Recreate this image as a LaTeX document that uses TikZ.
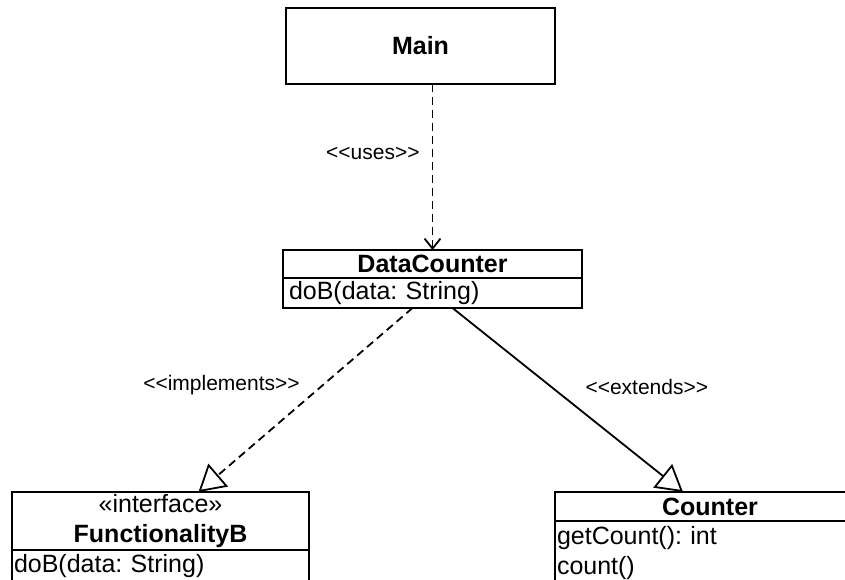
\documentclass[tikz,border=0pt]{standalone}
\usepackage{fontspec}
\setmainfont{Liberation Sans}
\usetikzlibrary{arrows.meta}
\begin{document}
\frenchspacing
\begin{tikzpicture}[x=1pt,y=-1pt,
  box/.style={draw, line width=1.8pt, inner sep=0pt, outer sep=0pt, font=\fontsize{25}{30}\selectfont},
  titlebox/.style={box, align=center},
  lbl/.style={inner sep=0pt, font=\fontsize{21}{25}\selectfont},
  conn/.style={line width=1.8pt},
  dep/.style={conn, dash pattern=on 8pt off 5pt},
  opentri/.style={-{Triangle[open, length=26pt, width=30pt, line width=1.8pt]}},
  barb/.style={-{Straight Barb[length=10pt, width=16pt, line width=1.8pt]}}
]
\useasboundingbox (0,0) rectangle (845,580);
\clip (0,0) rectangle (845,580);

% Main
\node[titlebox, minimum width=269pt, minimum height=76pt] (main) at (420.5,46) {\textbf{Main}};

% DataCounter
\node[titlebox, minimum width=299pt, minimum height=28pt] (dc) at (432.5,264) {\textbf{DataCounter}};
\node[box, anchor=north west, text width=287pt, inner xsep=6pt, minimum height=30pt, align=left] (dcb) at (dc.south west) {doB(data: String)};

% FunctionalityB
\node[titlebox, minimum width=297pt, minimum height=58pt] (fbt) at (160.5,521) {«interface»\\\textbf{FunctionalityB}};
\node[box, anchor=north west, text width=293pt, inner xsep=2pt, inner ysep=4pt, align=left] (fbb) at (fbt.south west) {doB(data: String)\rule[-30pt]{0pt}{30pt}};

% Counter
\node[titlebox, minimum width=310pt, minimum height=29pt] (ct) at (710,506.5) {\textbf{Counter}};
\node[box, anchor=north west, text width=306pt, inner xsep=2pt, inner ysep=5pt, align=left] (cb) at (ct.south west) {getCount(): int\\count()\rule[-30pt]{0pt}{30pt}};

% connectors
\draw[dep, barb] (main.south -| dc.north) -- (dc.north)
  node[lbl, pos=0.42, left=12pt] {<{}<uses>{}>};
\draw[dep, opentri] ([xshift=-20pt]dcb.south) -- ([xshift=38pt]fbt.north)
  node[lbl, pos=0.42, left=22pt] {<{}<implements>{}>};
\draw[conn, opentri] ([xshift=20pt]dcb.south) -- ([xshift=128pt]ct.north west)
  node[lbl, pos=0.43, right=33pt] {<{}<extends>{}>};
\end{tikzpicture}
\end{document}
